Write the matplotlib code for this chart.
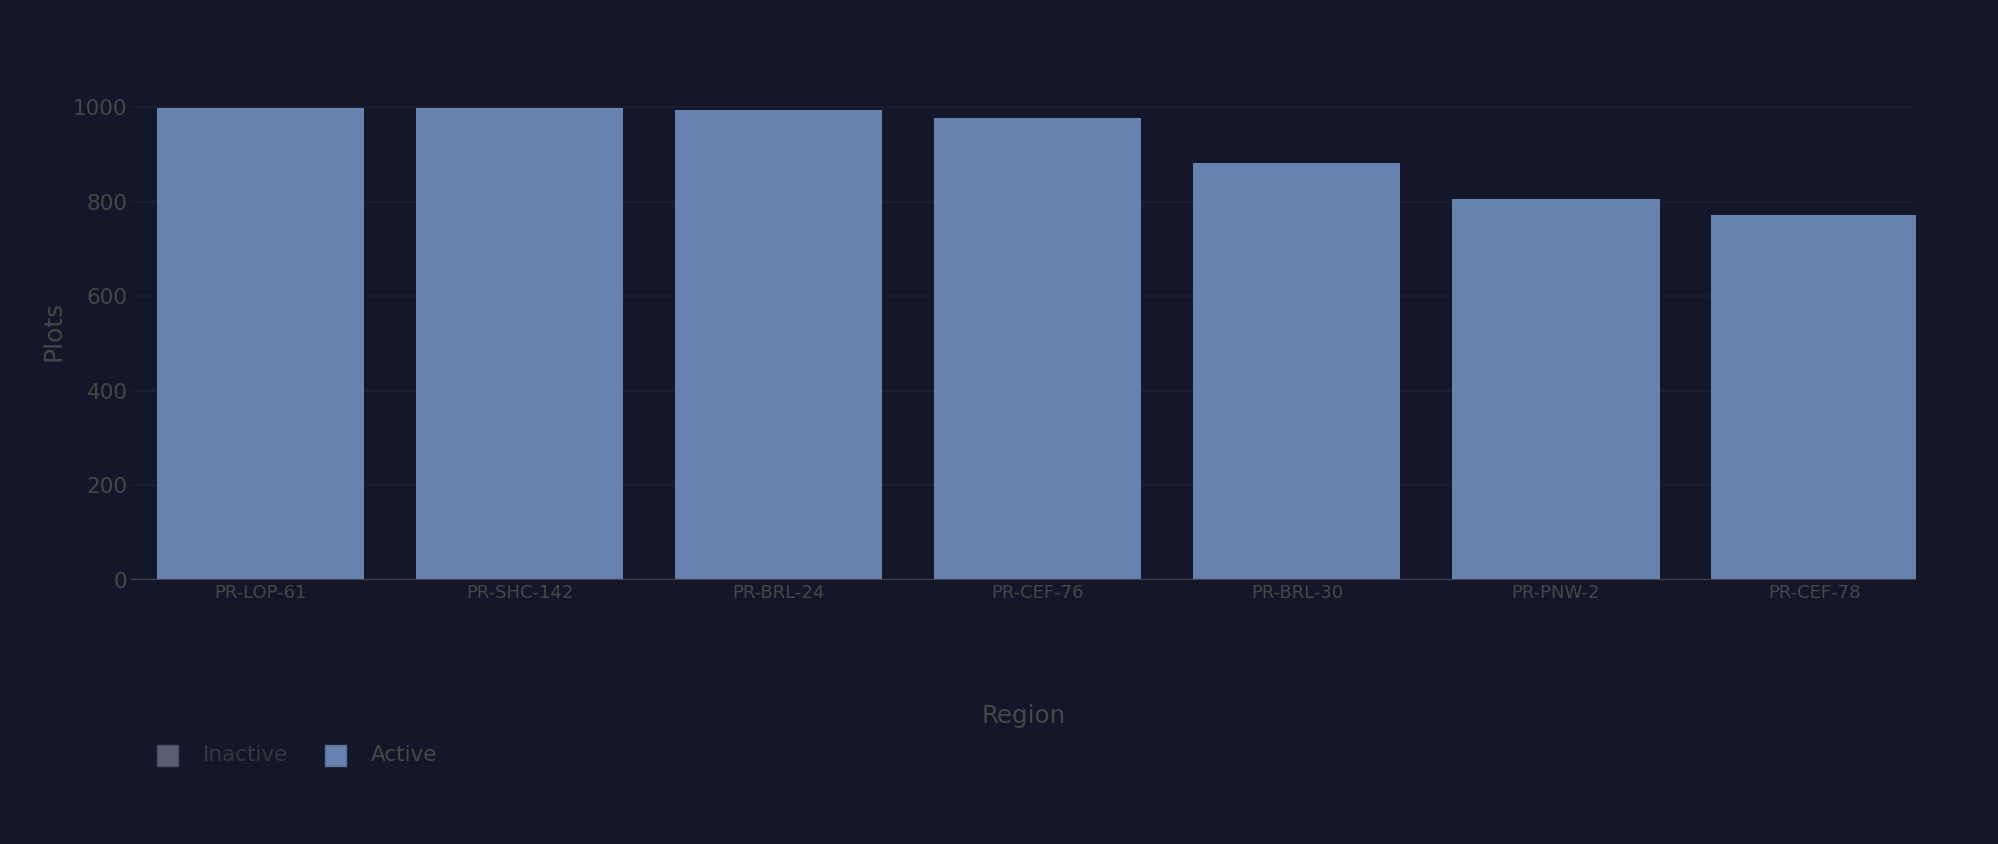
import matplotlib
matplotlib.use("Agg")
import matplotlib.pyplot as plt
from matplotlib.patches import Rectangle

# ---- data ----
regions = ["PR-LOP-61", "PR-SHC-142", "PR-BRL-24", "PR-CEF-76", "PR-BRL-30", "PR-PNW-2", "PR-CEF-78"]
active = [999, 999, 994, 978, 881, 805, 773]
y_ticks = [0, 200, 400, 600, 800, 1000]
series_names = ["Inactive", "Active"]

BG = "#131729"
BAR = "#6882b0"
INACTIVE_SW = "#5a5f73"
TICK_C = "#474747"
GRID_C = "#1b1f31"
ZERO_C = "#454650"

W, H = 1998, 844
fig = plt.figure(figsize=(W / 100, H / 100), dpi=100, facecolor=BG)
plt.rcParams['font.family'] = ['DejaVu Sans']

left, right = 131, 1916
top, bottom = 82.9, 579.7
ax = fig.add_axes([left / W, 1 - bottom / H, (right - left) / W, (bottom - top) / H])
ax.set_facecolor(BG)

x = list(range(len(regions)))
ax.bar(x, active, width=0.8, color=BAR, zorder=3, linewidth=0)

ax.set_xlim(-0.5, len(regions) - 1 + 0.39)
ax.set_ylim(0, 1051.6)
ax.set_yticks(y_ticks)
ax.set_yticklabels([str(v) for v in y_ticks])
ax.set_xticks(x)
ax.set_xticklabels(regions)

for s in ax.spines.values():
    s.set_visible(False)
ax.tick_params(axis='both', length=0)
ax.tick_params(axis='y', labelsize=15.5, labelcolor=TICK_C, pad=2.5)
ax.tick_params(axis='x', labelsize=13, labelcolor=TICK_C, pad=3)

ax.grid(axis='y', color=GRID_C, linewidth=1.2, zorder=0)
ax.grid(axis='x', visible=False)
ax.axhline(0, color=ZERO_C, linewidth=1.6, zorder=4)

# axis titles
fig.text(53.5 / W, 1 - 331.3 / H, "Plots", rotation=90, ha='center', va='center',
         fontsize=18, color=TICK_C)
fig.text(1023.5 / W, 1 - 722.6 / H, "Region", ha='center', va='baseline',
         fontsize=17.7, color=TICK_C)

# legend (Inactive hidden, Active shown)
sw = 21
leg_y = 744.5
items = [(156.5, INACTIVE_SW, "#4a4f63", 203.3, "#35373f"),
         (324.5, BAR, "#5871a0", 371, TICK_C)]
for (sx, fc, ec, tx, tc), name in zip(items, series_names):
    fig.patches.append(Rectangle((sx / W, 1 - (leg_y + sw) / H), sw / W, sw / H,
                                 transform=fig.transFigure, facecolor=fc,
                                 edgecolor=ec, linewidth=1))
    fig.text(tx / W, 1 - (leg_y + sw / 2) / H, name, ha='left', va='center',
             fontsize=15.5, color=tc)

fig.savefig("out.png", dpi=100, facecolor=BG)
